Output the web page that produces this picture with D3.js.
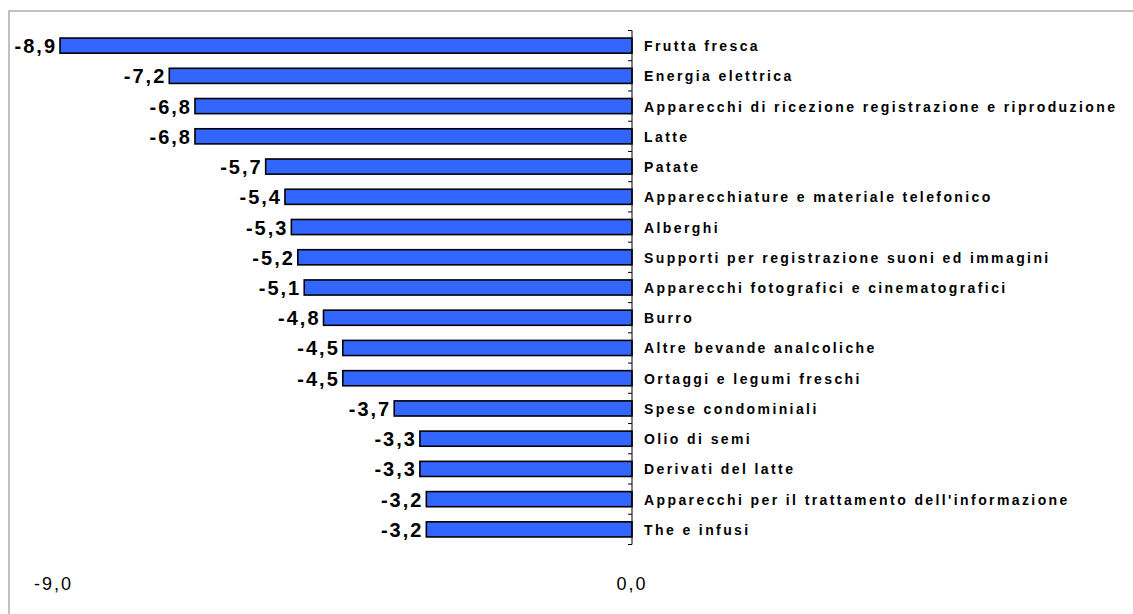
<!DOCTYPE html>
<html>
<head>
<meta charset="utf-8">
<script src="https://cdn.jsdelivr.net/npm/d3@7"></script>
<style>
  body { margin: 0; background: #fff; }
  svg { display: block; font-family: "Liberation Sans", Arial, sans-serif; }
</style>
</head>
<body>
<div id="chart"></div>
<script>
// categories and values, top to bottom
const categories = [
  "Frutta fresca",
  "Energia elettrica",
  "Apparecchi di ricezione registrazione e riproduzione",
  "Latte",
  "Patate",
  "Apparecchiature e materiale telefonico",
  "Alberghi",
  "Supporti per registrazione suoni ed immagini",
  "Apparecchi fotografici e cinematografici",
  "Burro",
  "Altre bevande analcoliche",
  "Ortaggi e legumi freschi",
  "Spese condominiali",
  "Olio di semi",
  "Derivati del latte",
  "Apparecchi per il trattamento dell'informazione",
  "The e infusi"
];
const values = [-8.9, -7.2, -6.8, -6.8, -5.7, -5.4, -5.3, -5.2, -5.1, -4.8, -4.5, -4.5, -3.7, -3.3, -3.3, -3.2, -3.2];
const xTicks = [-9, 0];

const width = 1133, height = 614;
const fmt = v => v.toFixed(1).replace(".", ",");

const svg = d3.select("#chart").append("svg")
  .attr("width", width)
  .attr("height", height);

// outer frame (only top and left visible)
svg.append("rect")
  .attr("x", 9).attr("y", 11)
  .attr("width", 1300).attr("height", 800)
  .attr("fill", "none")
  .attr("stroke", "#c0c0c0")
  .attr("stroke-width", 2);

const x = d3.scaleLinear().domain([-9, 0]).range([53.6, 632]);
const y = d3.scaleBand().domain(categories).range([30.5, 544.5]).paddingInner(0.5).paddingOuter(0.25);

const data = categories.map((c, i) => ({ name: c, value: values[i] }));

// bars
svg.append("g").selectAll("rect")
  .data(data)
  .join("rect")
  .attr("x", d => x(d.value))
  .attr("y", d => y(d.name))
  .attr("width", d => x(0) - x(d.value))
  .attr("height", y.bandwidth())
  .attr("fill", "#3366ff")
  .attr("stroke", "#000")
  .attr("stroke-width", 1.6);

// vertical category axis at zero
const step = y.step();
const axis = svg.append("g");
axis.append("line")
  .attr("x1", x(0)).attr("x2", x(0))
  .attr("y1", 30.5).attr("y2", 544.5)
  .attr("stroke", "#000").attr("stroke-width", 1);
axis.selectAll("line.tick")
  .data(d3.range(categories.length + 1))
  .join("line")
  .attr("class", "tick")
  .attr("x1", x(0) - 4).attr("x2", x(0))
  .attr("y1", i => 30.5 + i * step).attr("y2", i => 30.5 + i * step)
  .attr("stroke", "#000").attr("stroke-width", 1);

// category labels
svg.append("g").selectAll("text")
  .data(data)
  .join("text")
  .attr("x", x(0) + 12)
  .attr("y", d => y(d.name) + y.bandwidth() / 2 + 5.5)
  .style("font-size", "14px")
  .style("font-weight", "bold")
  .style("letter-spacing", "2.4px")
  .text(d => d.name);

// value labels
svg.append("g").selectAll("text")
  .data(data)
  .join("text")
  .attr("x", d => x(d.value) - 3)
  .attr("y", d => y(d.name) + y.bandwidth() / 2 + 7.5)
  .attr("text-anchor", "end")
  .style("font-size", "20px")
  .style("font-weight", "bold")
  .style("letter-spacing", "2px")
  .text(d => fmt(d.value));

// x tick labels
svg.append("g").selectAll("text")
  .data(xTicks)
  .join("text")
  .attr("x", d => x(d))
  .attr("y", 590)
  .attr("text-anchor", "middle")
  .style("font-size", "18px")
  .style("letter-spacing", "2px")
  .text(d => fmt(d));
</script>
</body>
</html>
